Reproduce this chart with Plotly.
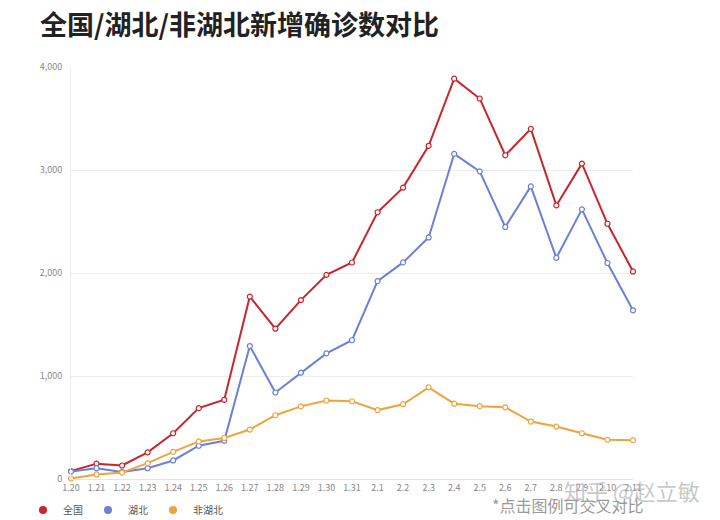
import plotly.graph_objects as go

# Daily new confirmed cases, 1.20 - 2.11
dates = ["1.20", "1.21", "1.22", "1.23", "1.24", "1.25", "1.26", "1.27", "1.28", "1.29",
         "1.30", "1.31", "2.1", "2.2", "2.3", "2.4", "2.5", "2.6", "2.7", "2.8",
         "2.9", "2.10", "2.11"]
national = [77, 149, 131, 259, 444, 688, 769, 1771, 1459, 1737, 1982, 2102,
            2590, 2829, 3235, 3887, 3694, 3143, 3399, 2656, 3062, 2478, 2015]
hubei = [72, 105, 69, 105, 180, 323, 371, 1291, 840, 1032, 1220, 1347,
         1921, 2103, 2345, 3156, 2987, 2447, 2841, 2147, 2618, 2097, 1638]
non_hubei = [5, 44, 62, 154, 264, 365, 398, 480, 619, 705, 762, 755,
             669, 726, 890, 731, 707, 696, 558, 509, 444, 381, 377]

series = [
    ("全国", national, "#c9252c"),
    ("湖北", hubei, "#6b80d6"),
    ("非湖北", non_hubei, "#efa33a"),
]

FONT = "Noto Sans CJK SC"
OFF = 8  # page body margin in the browser

fig = go.Figure()
for name, values, color in series:
    fig.add_trace(go.Scatter(
        x=dates, y=values, name=name, mode="lines+markers",
        legendgroup=name, showlegend=False,
        line=dict(color=color, width=2),
        marker=dict(size=5, color="white", line=dict(color=color, width=1.2)),
        cliponaxis=False,
    ))
    # legend entry: plain dot, toggles the line of the same group
    fig.add_trace(go.Scatter(
        x=[None], y=[None], name=name, mode="markers",
        legendgroup=name, showlegend=True,
        marker=dict(size=8, color=color, symbol="circle"),
    ))

fig.update_layout(
    width=720, height=520,
    margin=dict(l=71 - OFF, r=87 + OFF, t=67 - OFF, b=41 + OFF, autoexpand=False),
    paper_bgcolor="white", plot_bgcolor="white",
    font=dict(family=FONT, color="#888888"),
    title=dict(
        text="<b>全国/湖北/非湖北新增确诊数对比</b>",
        font=dict(family=FONT, size=27, color="#222222"),
        xref="container", yref="container",
        x=(40 - OFF) / 720, xanchor="left", y=1 - (26 - OFF) / 520, yanchor="middle",
    ),
    showlegend=True,
    legend=dict(
        orientation="h", xref="container", yref="container",
        x=(23 - OFF) / 720, xanchor="left", y=1 - (510 - OFF) / 520, yanchor="middle",
        font=dict(size=10, color="#555555"),
        itemwidth=30, tracegroupgap=0,
        bgcolor="rgba(0,0,0,0)",
    ),
    xaxis=dict(
        type="category", range=[0, len(dates) - 1],
        showgrid=False, showline=True, linecolor="#e4e4e4", linewidth=1,
        ticks="", tickfont=dict(size=9, color="#888888"),
        zeroline=False,
    ),
    yaxis=dict(
        range=[0, 4000], tickvals=[0, 1000, 2000, 3000, 4000], tickformat=",d",
        showgrid=True, gridcolor="#ececec", gridwidth=1,
        showline=True, linecolor="#ececec",
        zeroline=False, ticks="", ticklabelstandoff=6,
        tickfont=dict(size=9, color="#888888"),
    ),
    annotations=[
        dict(text="知乎 @赵立敏", xref="paper", yref="paper",
             x=(632 - 71) / 562, y=(479 - 490) / 412, xanchor="center", yanchor="middle",
             showarrow=False, font=dict(family=FONT, size=22, color="rgba(175,175,175,0.7)")),
        dict(text="*点击图例可交叉对比", xref="paper", yref="paper",
             x=(567 - 71) / 562, y=(479 - 505) / 412, xanchor="center", yanchor="middle",
             showarrow=False, font=dict(family=FONT, size=16, color="#9a9a9a")),
    ],
)

fig.write_html("out.html")
